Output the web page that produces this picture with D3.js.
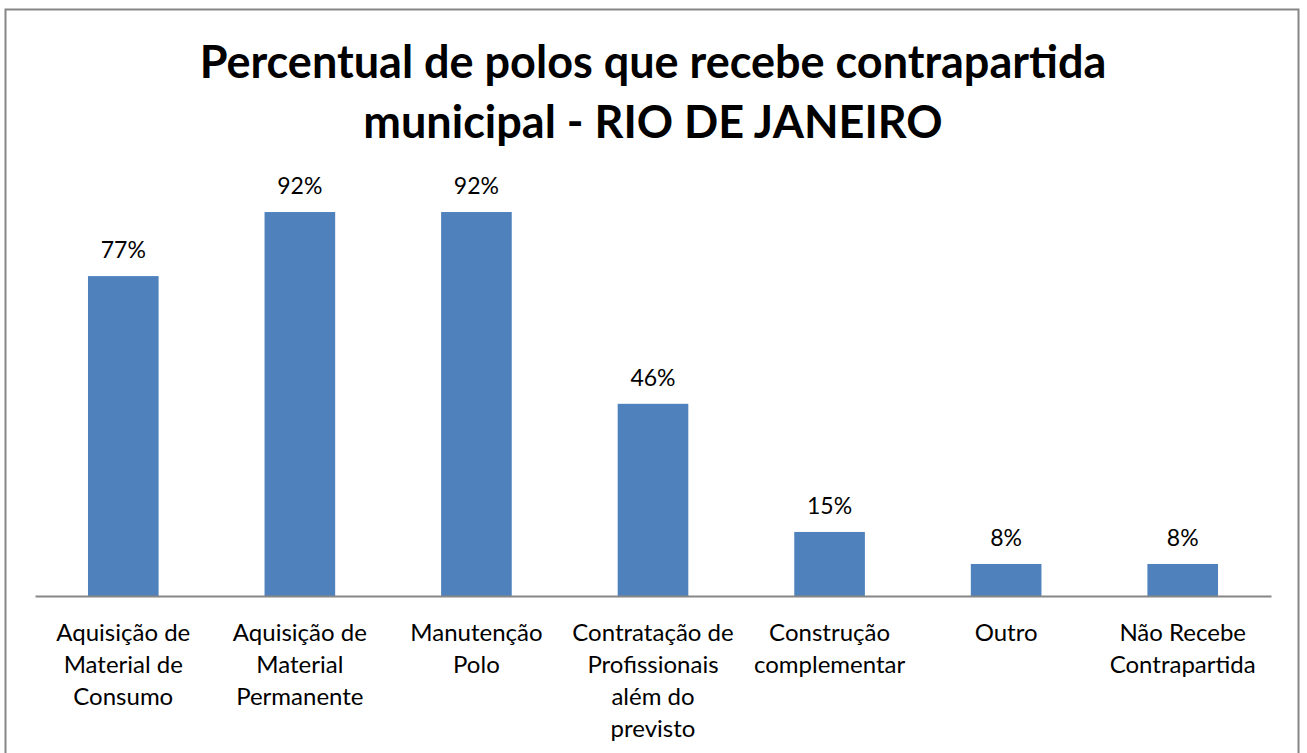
<!DOCTYPE html>
<html><head><meta charset="utf-8">
<script src="https://cdn.jsdelivr.net/npm/d3@7"></script>
<style>body{margin:0;background:#fff}svg{display:block}</style>
</head><body>
<script>
const categories = [
  ["Aquisição de","Material de","Consumo"],
  ["Aquisição de","Material","Permanente"],
  ["Manutenção","Polo"],
  ["Contratação de","Profissionais","além do","previsto"],
  ["Construção","complementar"],
  ["Outro"],
  ["Não Recebe","Contrapartida"]
];
const values = [76.9, 92.3, 92.3, 46.2, 15.4, 7.7, 7.7];
const titleLines = ["Percentual de polos que recebe contrapartida","municipal - RIO DE JANEIRO"];

const W = 1307, H = 753;
const svg = d3.select("body").append("svg").attr("width", W).attr("height", H);
const font = "Lato, 'Open Sans', sans-serif";

svg.append("rect").attr("x",5.5).attr("y",9.5).attr("width",1293).attr("height",760)
  .attr("fill","#fff").attr("stroke","#868686").attr("stroke-width",2);

const idx = d3.range(categories.length);
const x = d3.scaleBand().domain(idx).range([35,1271]).paddingInner(0.6).paddingOuter(0.3);
const y = d3.scaleLinear().domain([0,100]).range([596,180]);

svg.selectAll("text.title").data(titleLines).join("text")
  .attr("x", 653).attr("y",(d,i)=>78+i*60)
  .attr("text-anchor","middle").attr("font-family",font).attr("font-weight","bold")
  .attr("font-size",45).attr("fill","#000").text(d=>d);

svg.selectAll("rect.bar").data(values).join("rect")
  .attr("x",(d,i)=>x(i)).attr("width",x.bandwidth())
  .attr("y",d=>y(d)).attr("height",d=>y(0)-y(d)).attr("fill","#4f81bd");

svg.selectAll("text.val").data(values).join("text")
  .attr("x",(d,i)=>x(i)+x.bandwidth()/2).attr("y",d=>y(d)-18)
  .attr("text-anchor","middle").attr("font-family",font).attr("font-size",23).attr("fill","#000")
  .text(d=>Math.round(d)+"%");

const axis = d3.axisBottom(x).tickSize(0).tickFormat("");
const ax = svg.append("g").attr("transform","translate(0,596)").call(axis);
ax.select(".domain").attr("stroke","#868686").attr("stroke-width",2);

idx.forEach(i=>{
  const t = svg.append("text").attr("text-anchor","middle").attr("font-family",font)
    .attr("font-size",24).attr("fill","#000");
  categories[i].forEach((line,j)=>{
    t.append("tspan").attr("x",x(i)+x.bandwidth()/2).attr("y",641+j*32).text(line);
  });
});
</script>
</body></html>
